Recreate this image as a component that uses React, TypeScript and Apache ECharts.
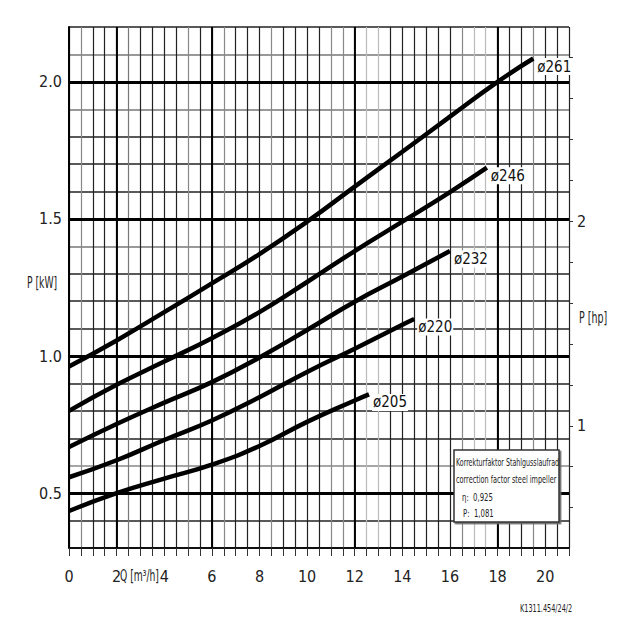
import React, { useEffect, useRef } from "react";
import * as echarts from "echarts";

const FONT =
  "'Liberation Sans Narrow', 'Arial Narrow', 'DejaVu Sans Condensed', 'Liberation Sans', Arial, sans-serif";

// Flow Q [m³/h] vs. power P [kW] for each impeller diameter
const d261: [number, number][] = [
  [0, 0.962], [2, 1.057], [4, 1.16], [6, 1.265], [8, 1.372], [10, 1.49],
  [12, 1.618], [14, 1.745], [16, 1.873], [18, 2.0], [19.5, 2.085],
];
const d246: [number, number][] = [
  [0, 0.8], [2, 0.895], [4, 0.98], [6, 1.065], [8, 1.16], [10, 1.27],
  [12, 1.383], [14, 1.49], [16, 1.598], [17.55, 1.687],
];
const d232: [number, number][] = [
  [0, 0.668], [2, 0.752], [4, 0.83], [6, 0.905], [8, 0.995], [10, 1.095],
  [12, 1.198], [14, 1.29], [16, 1.383],
];
const d220: [number, number][] = [
  [0, 0.558], [2, 0.62], [4, 0.694], [6, 0.765], [8, 0.85],
  [10, 0.942], [12, 1.027], [14, 1.114], [14.5, 1.135],
];
const d205: [number, number][] = [
  [0, 0.435], [2, 0.5], [4, 0.553], [6, 0.604], [8, 0.672], [10, 0.76],
  [12, 0.838], [12.6, 0.86],
];

const curveNames = ["ø261", "ø246", "ø232", "ø220", "ø205"];
const curveData = [d261, d246, d232, d220, d205];

const xLabelValues = [0, 2, 4, 6, 8, 10, 12, 14, 16, 18, 20];
const yLabelValues = [0.5, 1.0, 1.5, 2.0];
const hpTickValues = [0.6, 0.8, 1.0, 1.2, 1.4, 1.6, 1.8, 2.0, 2.2, 2.4, 2.6, 2.8];
const hpLabelValues = [1, 2];
const thickY = [0.5, 1.0, 1.5, 2.0];
const thickX = [2, 6, 12, 18];

const KW_PER_HP = 0.7457;
const Y_MIN = 0.3;
const Y_MAX = 2.2;
const X_MIN = 0;
const X_MAX = 21;

const yGridColors = [
  "#000", "#222", "#000", "#888", "#222", "#222", "#222", "#000", "#222", "#222",
  "#222", "#777", "#000", "#222", "#222", "#222", "#777", "#000", "#777", "#222",
];
const xGridColors = [
  "#111", "#888", "#222", "#222", "#000", "#777", "#222", "#222", "#222", "#222",
  "#888", "#222", "#000", "#888", "#222", "#222", "#222", "#888", "#222", "#222",
  "#222", "#222", "#888", "#888", "#222", "#bbb", "#bbb", "#222", "#222", "#222",
  "#222", "#222", "#222", "#888", "#bbb", "#bbb", "#000", "#222", "#222", "#888",
  "#222", "#222", "#222",
];

export default function App() {
  const ref = useRef<HTMLDivElement>(null);
  useEffect(() => {
    if (!ref.current) return;
    const chart = echarts.init(ref.current, undefined, { renderer: "svg" });
    const series: any[] = curveData.map((d, i) => ({
      type: "line",
      name: curveNames[i],
      data: d,
      xAxisIndex: 0,
      yAxisIndex: 0,
      showSymbol: false,
      smooth: 0.5,
      z: 5,
      lineStyle: { color: "#000", width: 4.5 },
      endLabel: {
        show: true,
        formatter: "{a}",
        color: "#111",
        fontSize: 15,
        fontFamily: FONT,
        backgroundColor: "#fff",
        padding: [1, 1],
        distance: 3,
        offset: [0, 8],
      },
    }));
    series.push({
      type: "line",
      data: [],
      xAxisIndex: 0,
      yAxisIndex: 0,
      z: 3,
      markLine: {
        silent: true,
        symbol: "none",
        label: { show: false },
        lineStyle: { color: "#000", width: 2.8, type: "solid" },
        data: [
          ...thickY.map((v) => ({ yAxis: v })),
          ...thickX.map((v) => ({ xAxis: v, lineStyle: { width: 1.9, color: "#000", type: "solid" } })),
        ],
      },
    });
    const txt = (text: string, x: number, y: number, size: number, sx: number, z = 10) => ({
      type: "text",
      x,
      y,
      z,
      scaleX: sx,
      style: { text, fontSize: size, fontFamily: FONT, fill: "#222", verticalAlign: "middle" },
    });
    chart.setOption({
      animation: false,
      backgroundColor: "#fff",
      grid: { left: 69, right: 71, top: 27, bottom: 92, containLabel: false },
      xAxis: {
        type: "value",
        min: X_MIN,
        max: X_MAX,
        interval: 0.5,
        axisLine: { show: true, lineStyle: { color: "#000", width: 1.5 } },
        axisTick: { show: true, length: 8, lineStyle: { color: "#333", width: 1 } },
        splitLine: { show: true, lineStyle: { color: xGridColors, width: 1.2 } },
        axisLabel: {
          customValues: xLabelValues,
          formatter: (v: number) => String(Math.round(v)),
          fontSize: 16,
          fontFamily: FONT,
          color: "#222",
          margin: 20,
        },
      },
      yAxis: [
        {
          type: "value",
          min: Y_MIN,
          max: Y_MAX,
          interval: 0.1,
          axisLine: { show: true, lineStyle: { color: "#000", width: 2 } },
          axisTick: { show: false },
          splitLine: { show: true, lineStyle: { color: yGridColors, width: 1.5 } },
          axisLabel: {
            customValues: yLabelValues,
            formatter: (v: number) => v.toFixed(1),
            fontSize: 16,
            fontFamily: FONT,
            color: "#222",
            margin: 7,
          },
        },
        {
          type: "value",
          position: "right",
          min: Y_MIN / KW_PER_HP,
          max: Y_MAX / KW_PER_HP,
          alignTicks: false,
          axisLine: { show: false },
          splitLine: { show: false },
          axisTick: {
            show: true,
            inside: false,
            length: 4,
            customValues: hpTickValues,
            lineStyle: { color: "#333", width: 1 },
          },
          axisLabel: {
            customValues: hpLabelValues,
            formatter: (v: number) => String(Math.round(v)),
            fontSize: 16,
            fontFamily: FONT,
            color: "#222",
            margin: 8,
          },
        },
      ],
      graphic: [
        txt("P [kW]", 27, 283, 16, 0.64),
        txt("P [hp]", 579, 317, 16, 0.66),
        txt("Q [m³/h]", 120, 576, 16, 0.64),
        txt("K1311.454/24/2", 520, 608, 11, 0.66),
        {
          type: "rect",
          z: 20,
          shape: { x: 454, y: 450, width: 105, height: 72 },
          style: {
            fill: "#fff",
            stroke: "#333",
            lineWidth: 1.5,
            shadowColor: "#666",
            shadowOffsetX: 1.5,
            shadowOffsetY: 1.5,
            shadowBlur: 0,
          },
        },
        txt("Korrekturfaktor Stahlgusslaufrad", 456, 462, 11, 0.64, 21),
        txt("correction factor steel impeller", 456, 479, 11, 0.66, 21),
        txt("η:  0,925", 462, 497, 11, 0.7, 21),
        txt("P:  1,081", 463, 513, 11, 0.7, 21),
      ],
      series,
    });
    return () => chart.dispose();
  }, []);
  return (
    <div
      ref={ref}
      style={{ position: "fixed", left: 0, top: 0, width: 640, height: 640, background: "#fff" }}
    />
  );
}
